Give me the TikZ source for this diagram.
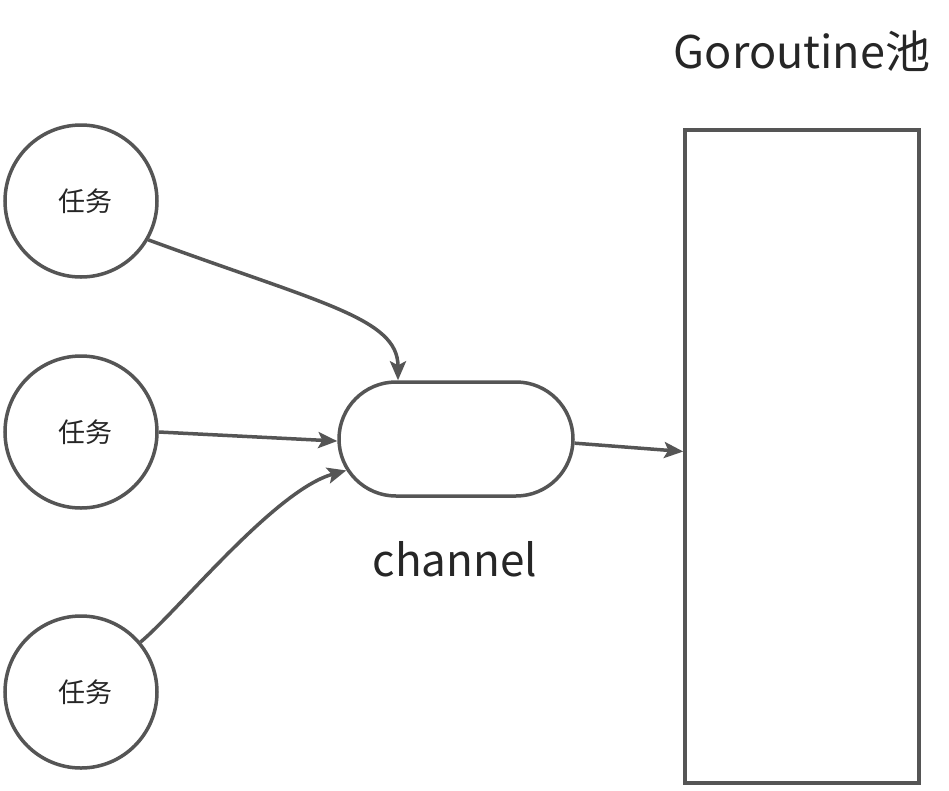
\documentclass[tikz,border=0pt]{standalone}
\usepackage{fontspec}
\newfontfamily\cjk{Noto Sans CJK SC}
\usetikzlibrary{arrows.meta,shapes.misc}
\definecolor{linegray}{RGB}{85,85,85}
\definecolor{textgray}{RGB}{38,38,38}
\tikzset{
  x=1pt, y=-1pt,
  taskcircle/.style={circle, draw=linegray, line width=3.5pt, minimum size=152pt, inner sep=0pt,
    text=textgray, font=\cjk\fontsize{27pt}{30pt}\selectfont},
  chanbox/.style={rounded rectangle, draw=linegray, line width=3.5pt, minimum width=234pt, minimum height=114pt, inner sep=0pt},
  poolbox/.style={rectangle, draw=linegray, line width=3.5pt, minimum width=234pt, minimum height=653pt, inner sep=0pt},
  bigtext/.style={text=textgray, font=\cjk\fontsize{45pt}{50pt}\selectfont, inner sep=0pt, anchor=base},
  conn/.style={draw=linegray, line width=3.5pt, -{Stealth[length=19pt,width=16pt,inset=4pt]}},
}
\begin{document}
\begin{tikzpicture}
\useasboundingbox[fill=white] (0,0) rectangle (949,790);
\node[taskcircle] (c1) at (81,201) {\hspace*{8pt}任务};
\node[taskcircle] (c2) at (81,432) {\hspace*{8pt}任务};
\node[taskcircle] (c3) at (81,692) {\hspace*{8pt}任务};
\node[chanbox] (ch) at (456,439) {};
\node[poolbox] (pool) at (802,456.5) {};
\node[bigtext] (title) at (802,68) {Goroutine池};
\node[bigtext, font=\cjk\fontsize{44pt}{50pt}\selectfont] (chlabel) at (455,576) {channel};
\draw[conn] (c1.-30) .. controls (320,303) and (398,318) .. ([xshift=-58pt]ch.north);
\draw[conn] (c2.east) -- (ch.181);
\draw[conn] (c3.40) .. controls (178,611) and (275,490) .. (ch.196);
\draw[conn] (ch.-2) -- ([yshift=5pt]pool.west);
\end{tikzpicture}
\end{document}
